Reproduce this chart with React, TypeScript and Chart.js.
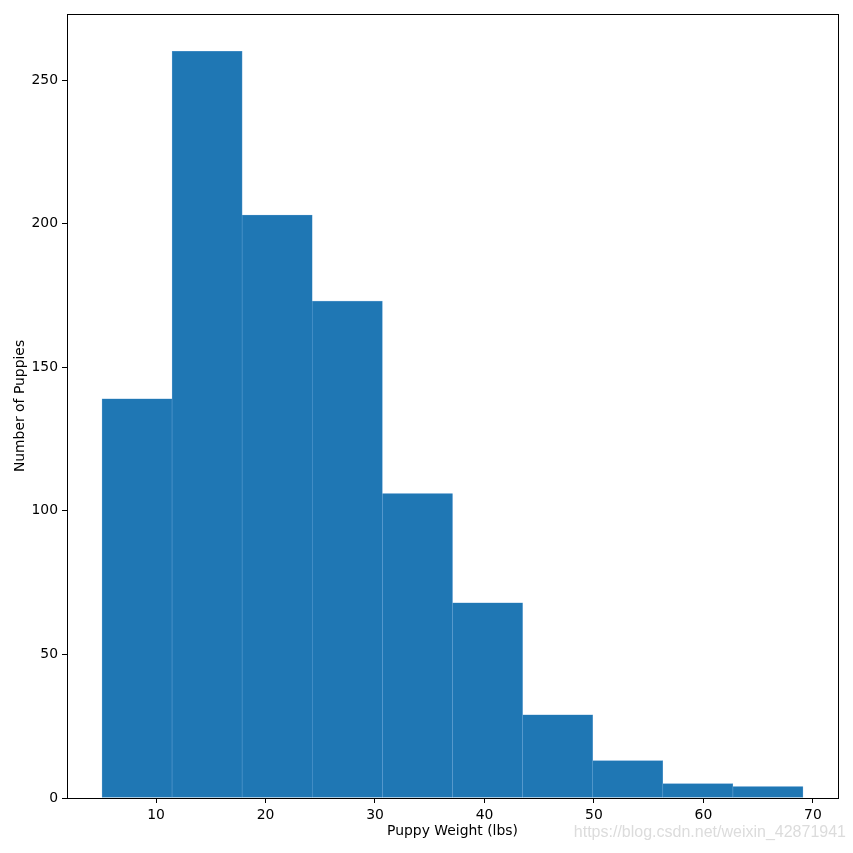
import React, { useEffect, useRef } from "react";
import { Chart, registerables } from "chart.js";

Chart.register(...registerables);

const binEdges = [5.07, 11.47, 17.87, 24.27, 30.68, 37.08, 43.48, 49.88, 56.28, 62.69, 69.09];
const counts = [139, 260, 203, 173, 106, 68, 29, 13, 5, 4];
const xTicks = [10, 20, 30, 40, 50, 60, 70];
const yTicks = [0, 50, 100, 150, 200, 250];
const xTitle = "Puppy Weight (lbs)";
const yTitle = "Number of Puppies";
const watermark = "https://blog.csdn.net/weixin_42871941";

const FONT = "'DejaVu Sans', sans-serif";

export default function App() {
  const ref = useRef<HTMLCanvasElement | null>(null);

  useEffect(() => {
    if (!ref.current) return;
    const points = counts.map((c, i) => ({ x: (binEdges[i] + binEdges[i + 1]) / 2, y: c }));
    const lo = binEdges[0];
    const hi = binEdges[binEdges.length - 1];
    const pad = (hi - lo) * 0.05;
    const yMax = Math.max(...counts) * 1.05;

    const framePlugin = {
      id: "frame",
      afterDraw(chart: any) {
        const { ctx, chartArea } = chart;
        ctx.save();
        ctx.strokeStyle = "#000";
        ctx.lineWidth = 1;
        ctx.strokeRect(
          Math.round(chartArea.left) + 0.5,
          Math.round(chartArea.top) + 0.5,
          Math.round(chartArea.right - chartArea.left),
          Math.round(chartArea.bottom - chartArea.top)
        );
        ctx.font = "16px 'Liberation Sans', Arial, sans-serif";
        ctx.fillStyle = "#dcdcdc";
        ctx.textAlign = "right";
        ctx.textBaseline = "middle";
        ctx.fillText(watermark, 846, 833);
        ctx.restore();
      },
    };

    const chart = new Chart(ref.current, {
      type: "bar",
      data: {
        datasets: [
          {
            data: points as any,
            backgroundColor: "#1f77b4",
            borderColor: "#5c9cd0",
            borderWidth: { left: 0.6, right: 0.6, top: 0.6, bottom: 0 } as any,
            barPercentage: 1,
            categoryPercentage: 1,
          },
        ],
      },
      options: {
        responsive: false,
        animation: false,
        layout: { padding: { top: 14, right: 15, left: 0, bottom: 0 } },
        plugins: { legend: { display: false }, tooltip: { enabled: false } },
        scales: {
          x: {
            type: "linear",
            min: lo - pad,
            max: hi + pad,
            offset: false,
            afterFit(scale: any) {
              scale.height = 55;
            },
            afterBuildTicks(scale: any) {
              scale.ticks = xTicks.map((v) => ({ value: v }));
            },
            grid: {
              offset: false,
              drawOnChartArea: false,
              drawTicks: true,
              tickLength: 5,
              color: "#000",
            },
            border: { display: true, color: "#000" },
            ticks: {
              color: "#000",
              padding: 4,
              maxRotation: 0,
              font: { family: FONT, size: 13.9 },
            },
            title: {
              display: true,
              text: xTitle,
              color: "#000",
              font: { family: FONT, size: 13.9 },
              padding: { top: 0, bottom: 13.7 },
            },
          },
          y: {
            type: "linear",
            min: 0,
            max: yMax,
            afterFit(scale: any) {
              scale.width = 67;
            },
            afterBuildTicks(scale: any) {
              scale.ticks = yTicks.map((v) => ({ value: v }));
            },
            grid: {
              drawOnChartArea: false,
              drawTicks: true,
              tickLength: 5,
              color: "#000",
            },
            border: { display: true, color: "#000" },
            ticks: {
              color: "#000",
              padding: 4,
              font: { family: FONT, size: 13.9 },
            },
            title: {
              display: true,
              text: yTitle,
              color: "#000",
              font: { family: FONT, size: 13.9 },
              padding: { top: 11.7, bottom: 0 },
            },
          },
        },
      },
      plugins: [framePlugin],
    });

    return () => chart.destroy();
  }, []);

  return (
    <div style={{ position: "absolute", left: 0, top: 0, width: 853, height: 853, background: "#fff" }}>
      <canvas ref={ref} width={853} height={853} style={{ display: "block" }} />
    </div>
  );
}
